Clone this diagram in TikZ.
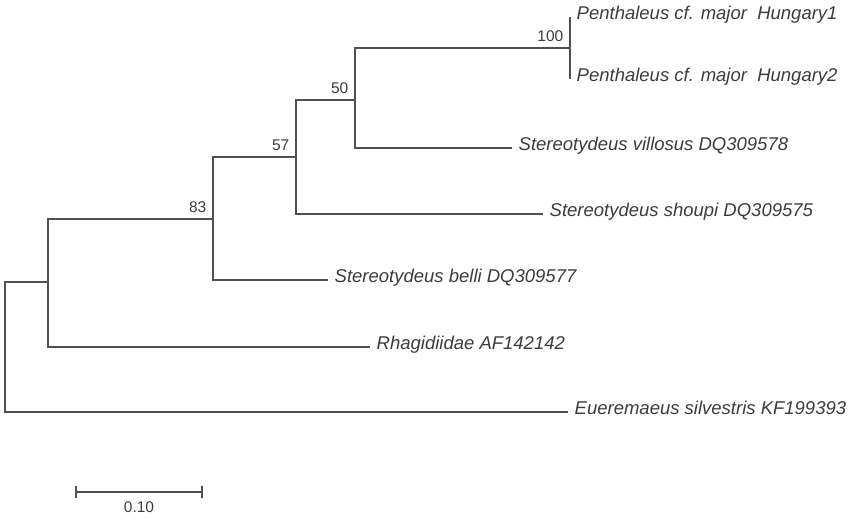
\documentclass[tikz,border=0pt]{standalone}
\usepackage{fontspec}
\setmainfont{Liberation Sans}
\usetikzlibrary{calc}
\definecolor{branchgray}{HTML}{505050}
\definecolor{labelgray}{HTML}{3C3C3C}

\begin{document}
\begin{tikzpicture}[x=1pt, y=-1pt, line width=1.4pt, draw=branchgray,
    taxon/.style={anchor=west, inner sep=6pt, text=labelgray, text height=0.75em, text depth=0.2em,
        font=\fontsize{18.5}{20}\selectfont\itshape},
    boot/.style={anchor=south east, inner sep=1pt, xshift=-5pt, yshift=5pt, text=labelgray,
        font=\fontsize{15.5}{16}\selectfont}]
    \useasboundingbox (0,0) rectangle (856,521);
    % internal nodes
    \coordinate (root) at (5,347);
    \coordinate (nrhag) at (48,282);
    \coordinate (n83) at (213,219);
    \coordinate (n57) at (296,157);
    \coordinate (n50) at (355,100);
    \coordinate (n100) at (570,48);
    % tips
    \node[taxon] (hung1) at (570,17) {Penthaleus cf. major\ \ Hungary1};
    \node[taxon] (hung2) at (570,79) {Penthaleus cf. major\ \ Hungary2};
    \node[taxon] (villosus) at (512,148) {Stereotydeus villosus DQ309578};
    \node[taxon] (shoupi) at (543,214) {Stereotydeus shoupi DQ309575};
    \node[taxon] (belli) at (328,280) {Stereotydeus belli DQ309577};
    \node[taxon] (rhag) at (370,347) {Rhagidiidae AF142142};
    \node[taxon] (euer) at (568,412) {Eueremaeus silvestris KF199393};
    % branches
    \draw (root) |- (nrhag);
    \draw (root) |- (euer.west);
    \draw (nrhag) |- (n83);
    \draw (nrhag) |- (rhag.west);
    \draw (n83) |- (n57);
    \draw (n83) |- (belli.west);
    \draw (n57) |- (n50);
    \draw (n57) |- (shoupi.west);
    \draw (n50) |- (n100);
    \draw (n50) |- (villosus.west);
    \draw (n100 |- hung1) -- (n100 |- hung2);
    % bootstrap values
    \node[boot] (b100) at (n100) {100};
    \node[boot] (b50) at (n50) {50};
    \node[boot] (b57) at (n57) {57};
    \node[boot] (b83) at (n83) {83};
    % scale bar
    \coordinate (sbleft) at (76,492);
    \coordinate (sbright) at (202,492);
    \draw (sbleft) -- (sbright);
    \draw ([yshift=6pt]sbleft) -- ([yshift=-6pt]sbleft);
    \draw ([yshift=6pt]sbright) -- ([yshift=-6pt]sbright);
    \node[text=labelgray, font=\fontsize{15.5}{16}\selectfont, anchor=north, inner sep=2pt]
        (sblabel) at ($(sbleft)!0.5!(sbright)+(0,7)$) {0.10};
\end{tikzpicture}
\end{document}
